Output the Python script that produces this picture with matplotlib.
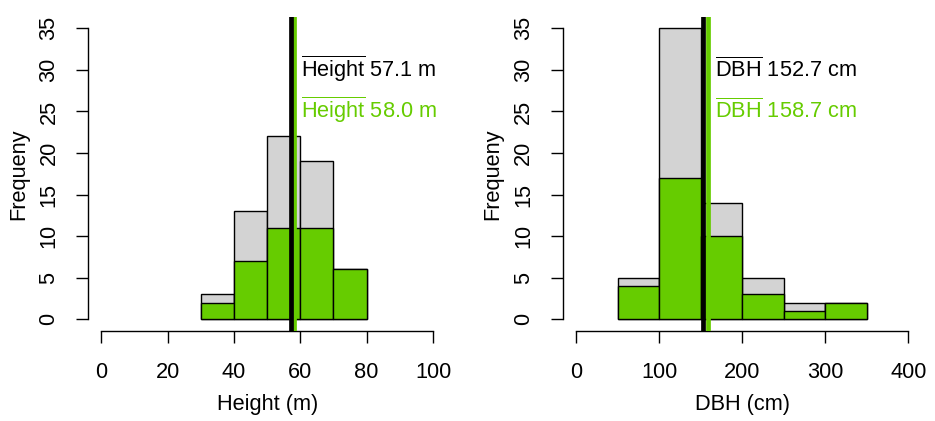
import matplotlib
matplotlib.use("Agg")
import matplotlib.pyplot as plt

# histogram counts
height_bins = [30, 40, 50, 60, 70, 80]
height_all = [3, 13, 22, 19, 6]
height_sub = [2, 7, 11, 11, 6]
height_mean_all = 57.1
height_mean_sub = 58.0

dbh_bins = [50, 100, 150, 200, 250, 300, 350]
dbh_all = [5, 35, 14, 5, 2, 2]
dbh_sub = [4, 17, 10, 3, 1, 2]
dbh_mean_all = 152.7
dbh_mean_sub = 158.7

gray = "#D3D3D3"
green = "#66CC00"

plt.rcParams["font.family"] = "Liberation Sans"
plt.rcParams["mathtext.fontset"] = "custom"
plt.rcParams["mathtext.rm"] = "Liberation Sans"
plt.rcParams["font.size"] = 15.7

fig = plt.figure(figsize=(9.35, 4.21), dpi=100)
ax1 = fig.add_axes([0.0941, 0.2138, 0.4773 - 0.0941, 0.9603 - 0.2138])
ax2 = fig.add_axes([0.6018, 0.2138, 0.9858 - 0.6018, 0.9603 - 0.2138])


def draw(ax, bins, total, sub, m_all, m_sub, name, unit, xmax, xticks):
    lefts = bins[:-1]
    widths = [b - a for a, b in zip(bins[:-1], bins[1:])]
    ax.bar(lefts, total, width=widths, align="edge", color=gray,
           edgecolor="black", linewidth=1.0, zorder=2)
    ax.bar(lefts, sub, width=widths, align="edge", color=green,
           edgecolor="black", linewidth=1.0, zorder=3)
    ax.axvline(m_sub, color=green, linewidth=3.4, zorder=4)
    ax.axvline(m_all, color="black", linewidth=3.4, zorder=5)

    ax.annotate(r"$\overline{\mathrm{%s}}$ %.1f %s" % (name, m_all, unit),
                xy=(m_sub, 30), xytext=(5, -5), textcoords="offset points",
                ha="left", va="baseline", color="black")
    ax.annotate(r"$\overline{\mathrm{%s}}$ %.1f %s" % (name, m_sub, unit),
                xy=(m_sub, 25), xytext=(5, -5), textcoords="offset points",
                ha="left", va="baseline", color=green)

    pad = xmax * 0.04
    ax.set_xlim(-pad, xmax + pad)
    ax.set_ylim(-1.4, 36.4)
    ax.set_xticks(xticks)
    ax.set_yticks(range(0, 36, 5))
    for lab in ax.get_yticklabels():
        lab.set_rotation(90)
        lab.set_va("center")
    ax.spines["top"].set_visible(False)
    ax.spines["right"].set_visible(False)
    ax.spines["bottom"].set_bounds(0, xmax)
    ax.spines["left"].set_bounds(0, 35)
    for s in ("bottom", "left"):
        ax.spines[s].set_linewidth(1.0)
    ax.tick_params(axis="both", direction="out", length=8.5, width=1.0)
    ax.tick_params(axis="x", pad=14)
    ax.tick_params(axis="y", pad=12)
    ax.set_ylabel("Frequeny", labelpad=7)
    ax.set_xlabel("%s (%s)" % (name, unit), labelpad=8)


draw(ax1, height_bins, height_all, height_sub, height_mean_all,
     height_mean_sub, "Height", "m", 100, [0, 20, 40, 60, 80, 100])
draw(ax2, dbh_bins, dbh_all, dbh_sub, dbh_mean_all,
     dbh_mean_sub, "DBH", "cm", 400, [0, 100, 200, 300, 400])

fig.savefig("out.png", dpi=100)
